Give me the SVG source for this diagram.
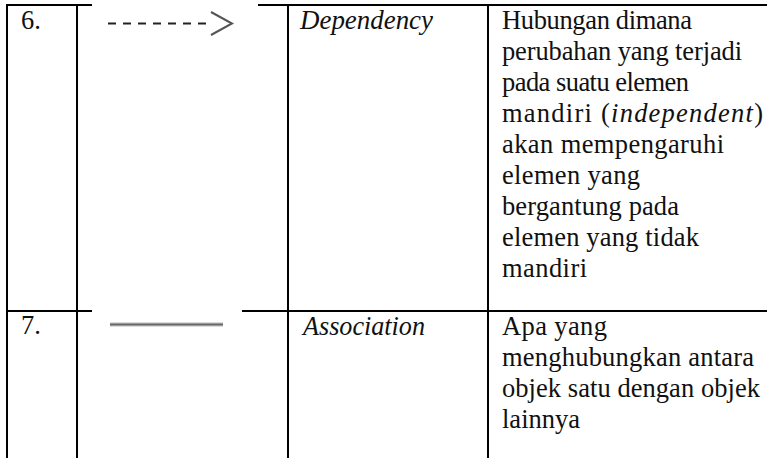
<svg xmlns="http://www.w3.org/2000/svg" width="767" height="458" viewBox="0 0 767 458">
  <style>
    .grid line { stroke: #000; stroke-width: 2; }
    .t { font-family: 'Liberation Serif', 'Times New Roman', serif; font-size: 26.5px; fill: #111; }
    .i { font-style: italic; }
  </style>
  <rect x="0" y="0" width="767" height="458" fill="#fff"/>
  <g id="grid" class="grid">
    <line x1="7" y1="4" x2="7" y2="458"/>
    <line x1="77" y1="4" x2="77" y2="458"/>
    <line x1="288" y1="4" x2="288" y2="458"/>
    <line x1="488" y1="4" x2="488" y2="458"/>
    <line x1="6" y1="5" x2="92" y2="5"/>
    <line x1="258" y1="5" x2="767" y2="5"/>
    <line x1="6" y1="311" x2="92" y2="311"/>
    <line x1="242" y1="311" x2="767" y2="311"/>
  </g>
  <g id="row-6">
    <text class="t" x="21" y="29">6.</text>
    <text class="t i" x="300" y="28.5" textLength="133" lengthAdjust="spacingAndGlyphs">Dependency</text>
    <text class="t" x="502" y="29" textLength="190">Hubungan dimana</text>
    <text class="t" x="502" y="60" textLength="240">perubahan yang terjadi</text>
    <text class="t" x="502" y="91" textLength="187">pada suatu elemen</text>
    <text class="t" x="502" y="122" textLength="261">mandiri (<tspan class="i">independent</tspan>)</text>
    <text class="t" x="502" y="153" textLength="222">akan mempengaruhi</text>
    <text class="t" x="502" y="184" textLength="138">elemen yang</text>
    <text class="t" x="502" y="215" textLength="177">bergantung pada</text>
    <text class="t" x="502" y="246" textLength="197">elemen yang tidak</text>
    <text class="t" x="502" y="277" textLength="85">mandiri</text>
  </g>
  <g id="row-7">
    <text class="t" x="21" y="334">7.</text>
    <text class="t i" x="303" y="335" textLength="122" lengthAdjust="spacingAndGlyphs">Association</text>
    <text class="t" x="502" y="335" textLength="105">Apa yang</text>
    <text class="t" x="502" y="366" textLength="252">menghubungkan antara</text>
    <text class="t" x="502" y="397" textLength="258">objek satu dengan objek</text>
    <text class="t" x="502" y="428" textLength="78">lainnya</text>
  </g>
  <g id="connectors">
    <line x1="108" y1="23.5" x2="207" y2="23.5" stroke="#222" stroke-width="2" stroke-dasharray="8 7"/>
    <polyline points="211,12 232,23.5 211,35" fill="none" stroke="#555" stroke-width="2"/>
    <line x1="110" y1="324.5" x2="223" y2="324.5" stroke="#d0d0d0" stroke-width="4.5"/>
    <line x1="110" y1="324.5" x2="223" y2="324.5" stroke="#666" stroke-width="2"/>
  </g>
</svg>
